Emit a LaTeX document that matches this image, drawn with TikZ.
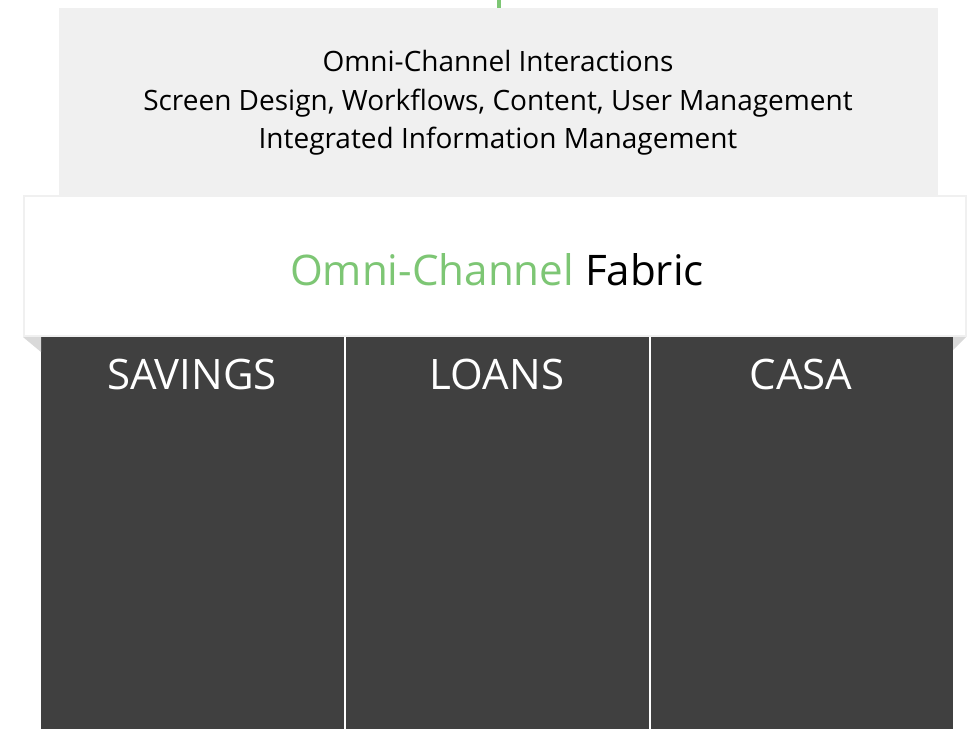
\documentclass[tikz,border=0pt]{standalone}
\usepackage{fontspec}
\setmainfont{Open Sans}
\definecolor{fabricgreen}{RGB}{125,198,116}
\definecolor{panelgrey}{RGB}{64,64,64}
\definecolor{topgrey}{RGB}{240,240,240}
\definecolor{foldgrey}{RGB}{217,217,217}
\begin{document}
\begin{tikzpicture}[x=0.75pt,y=-0.75pt,
  toptext/.style={font=\fontsize{21}{29}\selectfont,align=center,text=black,inner sep=0pt},
  paneltext/.style={font=\fontsize{31.5}{36}\selectfont,text=white,inner sep=0pt,anchor=base}]
\useasboundingbox (0,0) rectangle (968,729);
% grey box and the green line into it
\node [fill=topgrey, draw=none, inner sep=0pt, minimum width=659.25pt, minimum height=141pt] (layers) at (498.5,102) {};
\coordinate (feed) at (498.5,0);
\draw [line width=3pt, fabricgreen] (feed) -- (layers.north);
\node [toptext] (inter) at (498,103) {Omni-Channel Interactions\\Screen Design, Workflows, Content, User Management\\Integrated Information Management};
% dark panels
\draw [fill=panelgrey, draw=none] (41,337) rectangle (953,729);
\draw [line width=1.5pt, white] (344.5,337) -- (344.5,729);
\draw [line width=1.5pt, white] (649.5,337) -- (649.5,729);
\draw [fill=foldgrey, draw=none] (23,337) -- (41,337) -- (41,352) -- cycle;
\draw [fill=foldgrey, draw=none] (953,337) -- (966,337) -- (953,350) -- cycle;
% fabric band
\draw [fill=white, draw=topgrey, line width=1.5pt] (24,196) rectangle (966,336);
\node [font=\fontsize{31.6}{38}\selectfont, inner sep=0pt, anchor=base] (fabric) at (497,285) {\textcolor{fabricgreen}{Omni-Channel} Fabric};
\node [paneltext] (savings) at (192,389) {SAVINGS};
\node [paneltext] (loans) at (497,389) {LOANS};
\node [paneltext] (casa) at (801,389) {CASA};
\end{tikzpicture}
\end{document}
